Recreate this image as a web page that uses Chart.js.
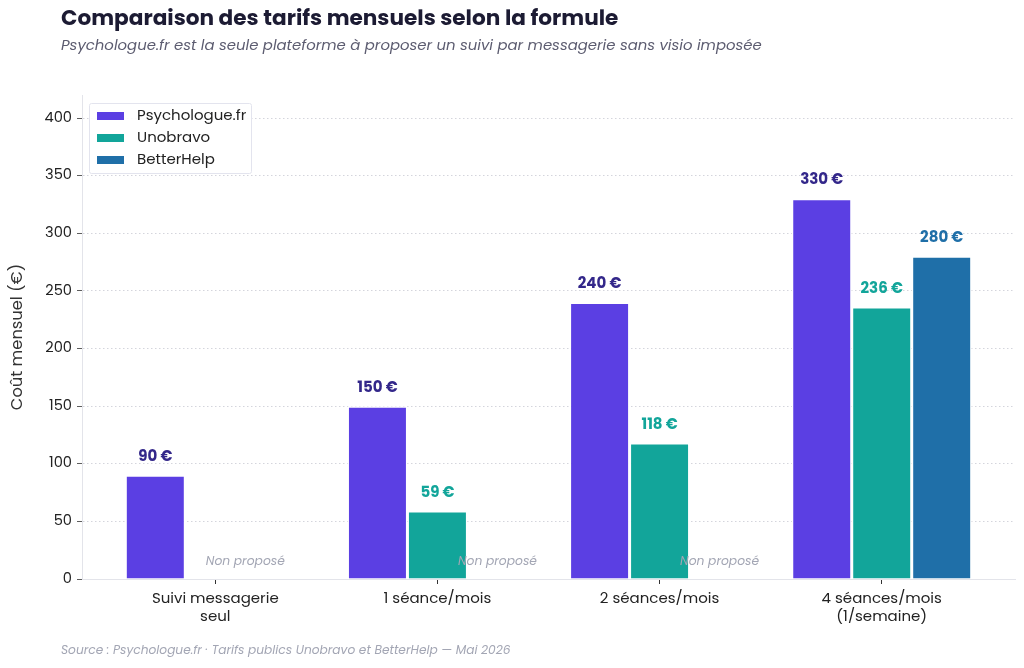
<!DOCTYPE html>
<html lang="fr">
<head>
<meta charset="utf-8">
<title>Comparaison des tarifs mensuels</title>
<script src="https://cdn.jsdelivr.net/npm/chart.js@4.4.1/dist/chart.umd.min.js"></script>
<style>
  html, body { margin: 0; padding: 0; background: #fff; }
  #wrap { position: relative; width: 1024px; height: 668px; }
</style>
</head>
<body>
<div id="wrap"><canvas id="tarifsChart"></canvas></div>
<script>
const FONT = 'Poppins, Inter, "Noto Sans", sans-serif';

// Données
const categories = [['Suivi messagerie', 'seul'], '1 séance/mois', '2 séances/mois', ['4 séances/mois', '(1/semaine)']];
const psychologueFr = [90, 150, 240, 330];
const unobravo = [null, 59, 118, 236];
const betterHelp = [null, null, null, 280];
const yTicks = [0, 50, 100, 150, 200, 250, 300, 350, 400];

const titleText = 'Comparaison des tarifs mensuels selon la formule';
const subtitleText = 'Psychologue.fr est la seule plateforme à proposer un suivi par messagerie sans visio imposée';
const sourceText = 'Source : Psychologue.fr · Tarifs publics Unobravo et BetterHelp — Mai 2026';
const notOfferedText = 'Non proposé';

const seriesStyle = [
    { label: 'Psychologue.fr', color: '#5b3fe3', text: '#33278a' },
    { label: 'Unobravo', color: '#12a59a', text: '#12a59a' },
    { label: 'BetterHelp', color: '#1f6fa8', text: '#1f6fa8' }
];

function toPoints(values) {
    return values.map((v, i) => ({ x: i, y: v }));
}

// Titres, légende, étiquettes
const decorPlugin = {
    id: 'decor',
    afterDatasetsDraw(chart) {
        const ctx = chart.ctx;
        const y = chart.scales.y;
        ctx.save();

        // valeurs au-dessus des barres
        ctx.textAlign = 'center';
        ctx.textBaseline = 'middle';
        ctx.font = `bold 15px ${FONT}`;
        chart.data.datasets.forEach((ds, d) => {
            const meta = chart.getDatasetMeta(d);
            ds.data.forEach((pt, i) => {
                if (pt.y == null) return;
                const bar = meta.data[i];
                ctx.fillStyle = seriesStyle[d].text;
                ctx.fillText(pt.y + ' €', bar.x, y.getPixelForValue(pt.y) - 18);
            });
        });

        // "Non proposé"
        ctx.font = `italic 12.3px ${FONT}`;
        ctx.fillStyle = '#a3a6b4';
        categories.forEach((c, i) => {
            const missing = [];
            chart.data.datasets.forEach((ds, d) => {
                if (ds.data[i].y == null) missing.push(chart.getDatasetMeta(d).data[i].x);
            });
            if (!missing.length) return;
            const cx = missing.reduce((a, b) => a + b, 0) / missing.length;
            ctx.fillText(notOfferedText, cx, y.getPixelForValue(15));
        });
        ctx.restore();
    },
    afterDraw(chart) {
        const ctx = chart.ctx;
        const area = chart.chartArea;
        ctx.save();
        ctx.textBaseline = 'middle';
        ctx.textAlign = 'left';

        ctx.fillStyle = '#1c1b33';
        ctx.font = `bold 21.6px ${FONT}`;
        ctx.fillText(titleText, 61, 20);

        ctx.fillStyle = '#5c5c70';
        ctx.font = `italic 14.9px ${FONT}`;
        ctx.fillText(subtitleText, 61, 46);

        ctx.fillStyle = '#a3a6b4';
        ctx.font = `italic 12.2px ${FONT}`;
        ctx.fillText(sourceText, 61, 651);

        // légende
        const lx = area.left + 7, ly = area.top + 8, lw = 162, lh = 70;
        ctx.fillStyle = 'rgba(255,255,255,0.9)';
        ctx.strokeStyle = '#e3e4ee';
        ctx.lineWidth = 1;
        ctx.beginPath();
        ctx.roundRect(lx + 0.5, ly + 0.5, lw, lh, 2);
        ctx.fill();
        ctx.stroke();
        ctx.font = `15px ${FONT}`;
        chart.data.datasets.forEach((ds, d) => {
            const cy = ly + 13 + d * 22;
            ctx.fillStyle = ds.backgroundColor;
            ctx.fillRect(lx + 8, cy - 4, 27, 8);
            ctx.fillStyle = '#222';
            ctx.fillText(ds.label, lx + 48, cy);
        });
        ctx.restore();
    }
};

const datasets = [psychologueFr, unobravo, betterHelp].map((values, d) => ({
    label: seriesStyle[d].label,
    data: toPoints(values),
    backgroundColor: seriesStyle[d].color,
    borderColor: '#ffffff',
    borderWidth: 1.5,
    borderSkipped: 'bottom',
    categoryPercentage: 0.81,
    barPercentage: 1
}));

new Chart(document.getElementById('tarifsChart'), {
    type: 'bar',
    data: { datasets: datasets },
    plugins: [decorPlugin],
    options: {
        responsive: true,
        maintainAspectRatio: false,
        animation: false,
        layout: { padding: { top: 95, right: 9, bottom: 0, left: 0 } },
        plugins: {
            legend: { display: false },
            tooltip: { enabled: false }
        },
        scales: {
            x: {
                type: 'linear',
                min: -0.6,
                max: 3.6,
                offset: false,
                afterBuildTicks: s => { s.ticks = categories.map((c, i) => ({ value: i })); },
                afterFit: s => { s.height = 89; },
                border: { display: true, color: '#e3e4ea', width: 1 },
                grid: { offset: false, drawOnChartArea: false, drawTicks: true, tickLength: 5, tickColor: '#333' },
                ticks: {
                    autoSkip: false,
                    maxRotation: 0,
                    padding: 6,
                    color: '#222',
                    font: { family: FONT, size: 15, lineHeight: 1.2 },
                    callback: v => categories[v]
                }
            },
            y: {
                min: 0,
                max: 420,
                afterBuildTicks: s => { s.ticks = yTicks.map(v => ({ value: v })); },
                afterFit: s => { s.width = 82; },
                border: { display: true, color: '#e3e4ea', width: 1, dash: [1.5, 2.5] },
                grid: {
                    color: '#c9cad3',
                    lineWidth: 0.8,
                    drawTicks: true,
                    tickLength: 5,
                    tickColor: '#333',
                    tickBorderDash: []
                },
                ticks: {
                    padding: 5,
                    color: '#222',
                    font: { family: FONT, size: 14.6 }
                },
                title: {
                    display: true,
                    text: 'Coût mensuel (€)',
                    color: '#333',
                    font: { family: FONT, size: 16.3 },
                    padding: { top: 8, bottom: 0 }
                }
            }
        }
    }
});
</script>
</body>
</html>
